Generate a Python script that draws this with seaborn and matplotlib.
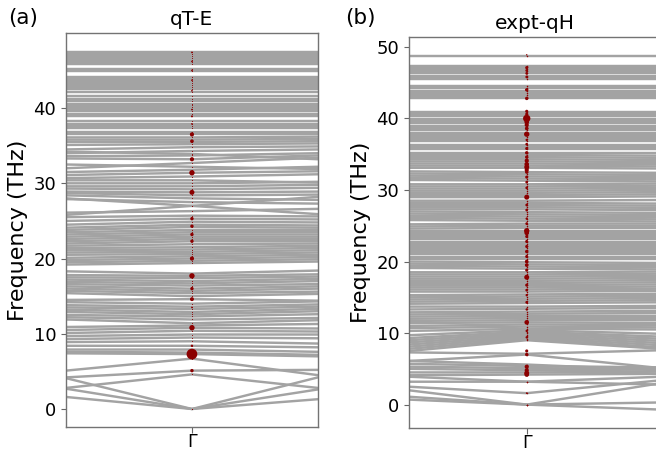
import numpy as np
import pandas as pd
import matplotlib
matplotlib.use("Agg")
import matplotlib.pyplot as plt
import seaborn as sns

# ---- panel (a): qT-E, band frequencies (THz) at left end, Gamma, right end
a_left = [1.6, 2.7, 4.1, 2.8, 4.2, 5.1, 7.4, 7.6, 7.9, 8.4,
          8.9, 9.3, 9.7, 10.1, 10.5, 10.9, 11.9, 12.2, 12.5, 12.9,
          13.2, 13.5, 13.8, 14.2, 14.5, 15.4, 15.7, 16.0, 16.3, 16.6,
          16.9, 17.2, 17.5, 17.8, 18.3, 19.2, 19.5, 19.8, 20.1, 20.5,
          20.8, 21.1, 21.4, 21.7, 22.0, 22.3, 22.6, 22.9, 23.2, 23.5,
          23.8, 24.1, 24.5, 25.0, 25.5, 26.1, 25.8, 28.0, 27.9, 28.4,
          28.7, 28.9, 29.3, 29.6, 30.0, 30.4, 30.7, 31.1, 31.5, 32.5,
          32.0, 33.3, 33.6, 34.2, 34.0, 34.5, 35.1, 35.5, 35.8, 36.1,
          36.5, 36.8, 37.3, 37.6, 37.9, 38.3, 38.9, 39.2, 39.6, 39.85,
          40.1, 40.35, 40.6, 41.0, 41.25, 41.6, 42.2, 42.5, 42.85, 43.1,
          43.4, 43.65, 43.9, 44.1, 44.95, 45.2, 45.85, 46.1, 46.35, 46.6,
          46.95, 47.2, 47.45]
a_gamma = [0.0, 0.0, 0.0, 4.6, 5.1, 6.7, 7.3, 7.5, 7.9, 8.4,
           9.0, 9.5, 9.9, 10.4, 10.8, 11.1, 11.4, 11.9, 12.3, 12.6,
           12.9, 13.3, 13.6, 14.0, 14.6, 15.0, 15.4, 15.7, 16.0, 16.4,
           16.7, 17.0, 17.4, 17.7, 18.0, 19.4, 19.7, 20.0, 20.3, 20.6,
           20.9, 21.2, 21.5, 21.9, 22.3, 22.6, 22.9, 23.2, 23.5, 23.8,
           24.2, 24.5, 24.9, 25.3, 25.7, 26.3, 27.0, 27.0, 27.5, 28.0,
           28.4, 28.8, 29.2, 29.6, 30.0, 30.4, 30.9, 31.4, 31.8, 32.2,
           32.7, 33.2, 33.7, 33.9, 34.3, 34.8, 35.2, 35.5, 35.8, 36.1,
           36.5, 36.8, 37.3, 37.6, 37.9, 38.3, 38.9, 39.2, 39.6, 39.85,
           40.1, 40.35, 40.6, 41.0, 41.25, 41.6, 42.2, 42.5, 42.85, 43.1,
           43.4, 43.65, 43.9, 44.1, 44.95, 45.2, 45.85, 46.1, 46.35, 46.6,
           46.95, 47.2, 47.45]
a_right = [1.3, 2.6, 4.2, 2.8, 5.2, 4.5, 7.0, 7.2, 7.6, 8.2,
           8.7, 9.4, 9.9, 10.3, 10.7, 11.3, 11.8, 12.1, 12.6, 13.0,
           13.3, 13.6, 13.9, 14.3, 14.4, 15.3, 15.6, 16.0, 16.3, 16.6,
           17.0, 17.3, 17.6, 17.9, 18.4, 19.6, 19.9, 20.2, 20.5, 20.8,
           21.1, 21.4, 21.7, 22.0, 22.3, 22.6, 22.9, 23.2, 23.5, 23.8,
           24.1, 24.4, 24.8, 25.2, 25.6, 26.6, 28.2, 25.9, 27.3, 27.8,
           28.5, 28.9, 29.4, 29.8, 30.2, 30.1, 31.2, 31.6, 32.2, 31.9,
           33.4, 33.7, 34.0, 33.2, 34.5, 34.9, 35.3, 35.6, 35.9, 36.2,
           36.5, 36.8, 37.3, 37.6, 37.9, 38.3, 38.9, 39.2, 39.6, 39.85,
           40.1, 40.35, 40.6, 41.0, 41.25, 41.6, 42.2, 42.5, 42.85, 43.1,
           43.4, 43.65, 43.9, 44.1, 44.95, 45.2, 45.85, 46.1, 46.35, 46.6,
           46.95, 47.2, 47.45]
a_dot_freq = [47.4, 46.2, 45.0, 43.7, 42.3, 39.8, 38.9, 37.9, 36.5, 35.6,
              33.2, 31.4, 28.8, 25.3, 24.3, 23.2, 22.3, 20.0, 17.7, 16.0,
              14.6, 13.5, 10.8, 8.4, 7.3, 5.1]
a_dot_size = [1.5, 1.5, 1.5, 1.5, 1.5, 1.5, 2, 1.5, 9, 7,
              9, 15, 13, 6, 6, 6, 6, 9, 15, 6,
              8, 1.5, 15, 3, 60, 6]

# ---- panel (b): expt-qH
b_left = [0.7, 1.1, 2.0, 2.5, 3.2, 3.9, 4.1, 4.5, 5.0, 5.3,
          5.7, 6.1, 6.1, 7.3, 7.5, 7.8, 8.1, 8.4, 8.7, 9.0,
          9.3, 9.7, 10.3, 10.7, 11.0, 11.4, 11.7, 12.0, 12.3, 12.6,
          12.9, 13.3, 13.7, 14.1, 14.4, 14.7, 15.0, 15.3, 15.8, 16.1,
          16.4, 16.7, 17.0, 17.3, 17.6, 17.9, 18.2, 18.5, 19.1, 19.4,
          19.7, 20.0, 20.4, 20.7, 21.0, 21.3, 21.6, 21.9, 22.2, 22.5,
          22.8, 23.1, 23.4, 23.7, 24.0, 24.3, 24.6, 24.9, 25.2, 25.8,
          26.1, 26.4, 26.7, 27.0, 27.3, 27.6, 27.9, 28.2, 28.5, 29.0,
          29.3, 29.6, 29.9, 30.2, 30.5, 30.8, 31.4, 31.7, 32.0, 32.3,
          32.6, 33.1, 33.4, 33.7, 34.0, 34.3, 34.6, 34.9, 35.2, 35.7,
          36.0, 36.3, 36.8, 37.1, 37.4, 37.7, 38.0, 38.4, 38.7, 39.0,
          39.3, 39.6, 39.9, 40.3, 40.6, 40.9, 42.8, 43.0, 43.3, 43.6,
          43.9, 44.2, 44.5, 45.5, 45.8, 46.0, 46.3, 46.6, 46.9, 47.2,
          47.4, 48.8]
b_gamma = [0.0, 0.0, 0.0, 1.6, 3.2, 3.2, 4.2, 4.5, 4.8, 5.1,
           5.4, 5.6, 7.0, 7.1, 9.0, 9.2, 9.4, 9.6, 9.8, 10.0,
           10.2, 10.4, 10.6, 10.9, 11.2, 11.5, 11.8, 12.1, 12.4, 12.7,
           13.0, 13.4, 13.7, 14.2, 14.5, 14.8, 15.1, 15.4, 15.8, 16.1,
           16.4, 16.7, 17.0, 17.3, 17.6, 17.9, 18.2, 18.5, 19.0, 19.3,
           19.6, 19.9, 20.4, 20.7, 21.0, 21.3, 21.6, 21.9, 22.2, 22.5,
           22.8, 23.1, 23.4, 23.7, 24.0, 24.3, 24.7, 25.0, 25.3, 25.7,
           26.0, 26.3, 26.6, 26.9, 27.3, 27.6, 27.9, 28.2, 28.5, 29.0,
           29.3, 29.6, 29.9, 30.2, 30.5, 30.8, 31.3, 31.6, 31.9, 32.2,
           32.5, 33.1, 33.4, 33.7, 34.0, 34.3, 34.6, 34.9, 35.2, 35.7,
           36.0, 36.3, 36.8, 37.1, 37.4, 37.7, 38.0, 38.4, 38.7, 39.0,
           39.3, 39.6, 39.9, 40.3, 40.6, 40.9, 42.8, 43.0, 43.3, 43.6,
           43.9, 44.2, 44.5, 45.5, 45.8, 46.0, 46.3, 46.6, 46.9, 47.2,
           47.4, 48.8]
b_right = [-0.7, 0.3, 3.0, 3.4, 3.9, 2.8, 4.3, 4.6, 4.9, 5.0,
           5.2, 4.8, 5.1, 7.6, 7.8, 8.0, 8.3, 8.6, 8.9, 9.2,
           9.5, 9.9, 10.5, 10.8, 11.1, 11.4, 11.8, 12.1, 12.4, 12.8,
           13.1, 13.5, 13.8, 14.3, 14.6, 14.9, 15.2, 15.5, 15.9, 16.2,
           16.5, 16.8, 17.1, 17.4, 17.7, 18.0, 18.3, 18.6, 18.9, 19.2,
           19.5, 19.8, 20.4, 20.7, 21.0, 21.3, 21.6, 21.9, 22.2, 22.5,
           22.8, 23.1, 23.4, 23.7, 24.0, 24.3, 24.7, 25.0, 25.3, 25.6,
           25.9, 26.2, 26.5, 26.8, 27.2, 27.5, 27.8, 28.1, 28.6, 29.1,
           29.4, 29.7, 30.0, 30.3, 30.6, 30.9, 31.2, 31.5, 31.8, 32.1,
           32.4, 33.0, 33.3, 33.6, 33.9, 34.2, 34.5, 34.8, 35.2, 35.7,
           36.0, 36.3, 36.8, 37.1, 37.4, 37.7, 38.0, 38.4, 38.7, 39.0,
           39.3, 39.6, 39.9, 40.3, 40.6, 40.9, 42.8, 43.0, 43.3, 43.6,
           43.9, 44.2, 44.5, 45.5, 45.8, 46.0, 46.3, 46.6, 46.9, 47.2,
           47.4, 48.8]
b_dot_freq = [48.9, 47.1, 46.7, 46.3, 45.8, 44.0, 42.8, 41.0, 40.6, 40.0,
              39.5, 39.1, 38.6, 37.8, 37.0, 36.4, 35.8, 35.2, 34.6, 34.1,
              33.6, 33.2, 32.8, 32.5, 31.8, 31.1, 30.3, 29.0, 27.9, 27.2,
              26.0, 25.3, 24.3, 24.0, 23.5, 22.8, 22.1, 21.4, 20.7, 20.0,
              19.5, 18.8, 17.8, 16.7, 16.0, 15.3, 14.3, 13.3, 11.5, 10.3,
              9.4, 7.5, 7.0, 5.3, 4.8, 4.4, 4.2, 1.6]
b_dot_size = [1, 5, 4, 4, 4, 6, 6, 5, 5, 28,
              11, 9, 7, 15, 3, 4, 5, 6, 6, 9,
              11, 13, 9, 6, 5, 4, 4, 13, 4, 4,
              3, 4, 15, 11, 5, 5, 5, 6, 5, 7,
              7, 5, 13, 5, 4, 3, 4, 3, 11, 3,
              3, 5, 6, 9, 9, 13, 11, 1.5]

BAND_COLOR = "#a3a3a3"
DOT_COLOR = "#8b0000"

sns.set_style("ticks")
plt.rcParams["font.family"] = ["DejaVu Sans"]
plt.rcParams["text.color"] = "black"
plt.rcParams["axes.labelcolor"] = "black"
plt.rcParams["xtick.labelcolor"] = "black"
plt.rcParams["ytick.labelcolor"] = "black"


def band_frame(left, gamma, right, k_right):
    rows = []
    for i in range(len(gamma)):
        rows.append([i, -1.0, left[i]])
        rows.append([i, 0.0, gamma[i]])
        rows.append([i, k_right, right[i]])
    return pd.DataFrame(rows, columns=["band", "k", "freq"])


def draw_panel(ax, left, gamma, right, dot_freq, dot_size, k_right, trace, title, ylim, yticks):
    df = band_frame(left, gamma, right, k_right)
    sns.lineplot(data=df, x="k", y="freq", units="band", estimator=None, sort=False,
                 color=BAND_COLOR, lw=1.75, ax=ax)
    # faint red trace at every Gamma frequency
    ax.scatter(np.zeros(len(gamma)), gamma, s=trace, color=DOT_COLOR, lw=0, zorder=3)
    ax.scatter(np.zeros(len(dot_freq)), dot_freq, s=dot_size, color=DOT_COLOR, lw=0, zorder=4)
    ax.set_xlim(-1, k_right)
    ax.set_ylim(*ylim)
    ax.set_xticks([0])
    ax.set_xticklabels(["Γ"])
    ax.set_yticks(yticks)
    ax.set_xlabel("")
    ax.set_ylabel("Frequency (THz)", fontsize=16, color="black")
    ax.set_title(title, fontsize=14.5, color="black")
    ax.tick_params(labelsize=13, color="0.4", labelcolor="black")
    ax.tick_params(axis="x", pad=0.5, length=4, labelsize=12.5)
    for s in ax.spines.values():
        s.set_visible(True)
        s.set_color("0.45")
        s.set_linewidth(1.0)


fig = plt.figure(figsize=(6.56, 4.5), dpi=100)
ax1 = fig.add_axes([0.1006, 0.051, 0.384, 0.876])
ax2 = fig.add_axes([0.6235, 0.050, 0.384, 0.868])

draw_panel(ax1, a_left, a_gamma, a_right, a_dot_freq, a_dot_size, 1.0, 0.4,
           "qT-E", (-2.4, 50.0), [0, 10, 20, 30, 40])
draw_panel(ax2, b_left, b_gamma, b_right, b_dot_freq, b_dot_size, 1.14, 1.2,
           "expt-qH", (-3.2, 51.4), [0, 10, 20, 30, 40, 50])

fig.text(0.012, 0.96, "(a)", fontsize=15.5, va="center", ha="left", color="black")
fig.text(0.526, 0.96, "(b)", fontsize=15.5, va="center", ha="left", color="black")

fig.savefig("out.png", dpi=100)
